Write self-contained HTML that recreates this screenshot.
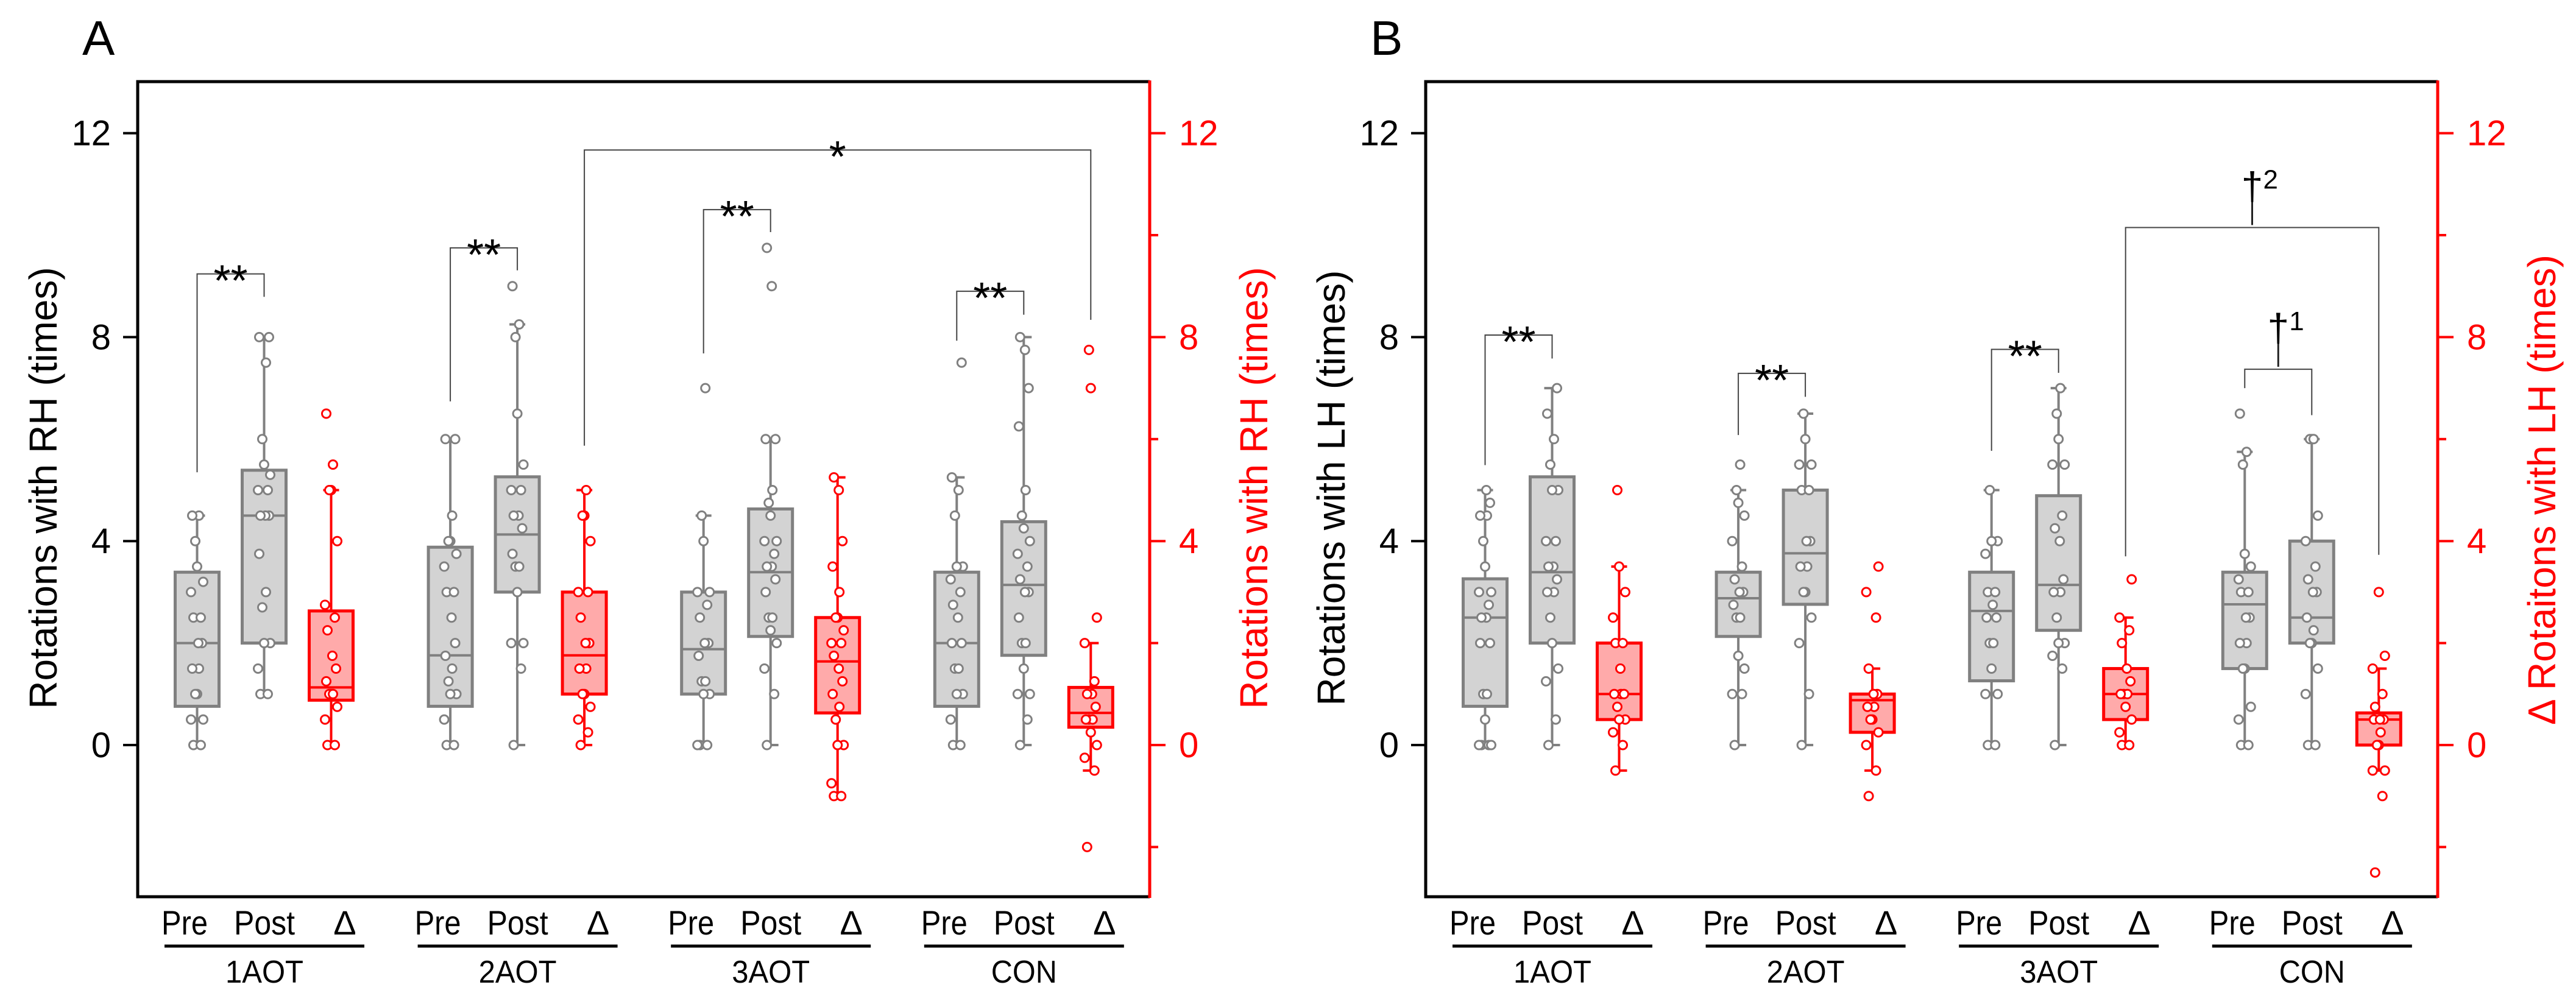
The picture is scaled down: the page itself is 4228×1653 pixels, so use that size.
<!DOCTYPE html>
<html><head><meta charset="utf-8"><style>
html,body{margin:0;padding:0;background:#fff;}
svg{display:block;}
text{font-family:"Liberation Sans",sans-serif;}
</style></head><body>
<svg id="chart" width="4228" height="1653" viewBox="0 0 4228 1653" xmlns="http://www.w3.org/2000/svg"></svg>
<script>
// ---- data ----
const groups = ["1AOT","2AOT","3AOT","CON"];
const conds = ["Pre","Post","Δ"];
const yTicks = [0,4,8,12];
const yTicksMinor = [-2,2,6,10];
// box stats per box: [whiskerLow, q1, median, q3, whiskerHigh]
const boxesA = [
 [0,0.76,2.0,3.39,4.5],[1,2.0,4.5,5.39,8],[0,0.88,1.13,2.63,5],
 [0,0.76,1.76,3.88,6],[0,3.0,4.13,5.26,8.25],[0,1.0,1.76,3.0,5],
 [0,1.0,1.88,3.0,4.5],[0,2.13,3.39,4.63,6],[-1,0.63,1.64,2.5,5.25],
 [0,0.76,2.0,3.39,5.25],[0,1.76,3.14,4.38,8],[-0.5,0.35,0.63,1.13,2]
];
const boxesB = [
 [0,0.76,2.5,3.26,5],[0,2.0,3.39,5.26,7],[-0.5,0.5,1.0,2.0,3.5],
 [0,2.13,2.88,3.39,5],[0,2.76,3.76,5.0,6.5],[-0.5,0.25,0.88,1.0,1.5],
 [0,1.26,2.63,3.39,5],[0,2.25,3.14,4.89,7],[0,0.5,1.0,1.5,2.5],
 [0,1.5,2.76,3.39,5.75],[0,2.0,2.5,4.0,6],[-0.5,0,0.5,0.63,1.5]
];
const pointsA = [
 [0,0,0.5,0.5,1,1,1.5,1.5,2,2,2.5,2.5,3,3.2,3.5,4,4.5,4.5],
 [1,1,1.5,2,2,2.7,3,3.75,4.5,4.5,4.5,5,5,5.3,5.5,6,7.5,8,8],
 [0,0,0.5,0.75,1,1,1,1.25,1.5,1.75,2.25,2.5,2.75,4,5,5,5.5,6.5],
 [0,0,0.5,1,1,1.25,1.5,1.75,2,2.5,3,3,3.5,3.75,4,4,4.5,6,6],
 [0,1.5,2,2,3,3.5,3.5,3.75,4.25,4.5,4.5,5,5,5.5,6.5,8,8.25,9],
 [0,0.25,0.5,0.75,1,1,1.5,1.5,2,2,2.5,3,3,4,4.5,4.5,5],
 [0,0,0,1,1,1.25,1.25,1.75,2,2,2.5,2.75,3,3,4,4.5,7],
 [0,1,1.5,2,2.25,2.5,2.5,3,3.25,3.5,3.5,3.75,4,4,4.5,4.75,5,6,6,9,9.75],
 [-1,-1,-0.75,0,0,0.5,0.75,1,1.25,1.5,1.75,2,2,2.25,2.5,2.5,3,3.5,4,5,5.25],
 [0,0,0.5,1,1,1.5,1.5,2,2,2.5,2.75,3,3.25,3.5,3.5,4.5,5,5.25,7.5],
 [0,0.5,1,1,1.5,2,2,2.5,3,3,3.25,3.5,3.75,4,4.25,4.5,5,6.25,7,7.75,8],
 [-2,-0.5,-0.25,0,0.25,0.5,0.5,0.5,0.75,1,1,1.25,2,2.5,7,7.75]
];
const pointsB = [
 [0,0,0,0,0.5,1,1,2,2,2.5,2.5,2.75,3,3,3.5,4,4.5,4.5,4.75,5],
 [0,0.5,1.25,1.5,2,2.5,3,3,3.25,3.5,3.5,4,4,5,5,5.5,6,6.5,7],
 [-0.5,0,0.25,0.5,0.5,0.75,1,1,1,1.5,2,2,2.5,3,3.5,5],
 [0,1,1,1.5,1.75,2.5,2.5,2.75,3,3,3.25,3.5,4,4.5,4.75,5,5.5],
 [0,1,2,2.5,3,3,3.5,3.5,4,4,5,5,5.5,5.5,6,6.5],
 [-1,-0.5,0,0.25,0.5,0.5,0.75,0.75,1,1,1.5,2.5,3,3.5],
 [0,0,1,1,1.5,2,2,2.5,2.5,2.75,3,3,3.75,4,4,5],
 [0,1.5,1.75,2,2,2.5,3,3,3.25,4,4.25,4.5,5.5,5.5,6,6.5,7],
 [0,0,0.25,0.5,0.75,1,1,1,1.25,1.5,2,2.25,2.5,3.25],
 [0,0,0.5,0.75,1.5,1.5,2,2,2.5,2.5,3,3,3.25,3.5,3.75,5.5,5.75,6.5],
 [0,0,1,1.5,2,2,2.25,2.5,3,3,3.25,3.5,4,4.5,6,6,6],
 [-2.5,-1,-0.5,-0.5,0,0,0.25,0.5,0.5,0.5,0.75,1,1.5,1.75,3]
];
// brackets: [fromIdx, toIdx, leftStartVal, topVal, rightEndVal, label, sup]
const bracketsA = [
 [0,1,5.35,9.24,8.79,"**",""],[3,4,6.74,9.75,9.31,"**",""],
 [5,11,5.87,11.67,8.34,"*",""],[6,7,7.68,10.5,10.06,"**",""],
 [9,10,7.93,8.9,8.44,"**",""]
];
const bracketsB = [
 [0,1,5.49,8.04,7.58,"**",""],[3,4,6.08,7.29,6.83,"**",""],
 [6,7,5.77,7.76,7.3,"**",""],[9,10,7.0,7.37,6.47,"†","1"],
 [8,11,3.70,10.15,3.73,"†","2"]
];
const panels = [
 {label:"A", off:0, boxes:boxesA, pts:pointsA, br:bracketsA, lt:"Rotations with RH (times)", rt:"Rotations with RH (times)"},
 {label:"B", off:2114, boxes:boxesB, pts:pointsB, br:bracketsB, lt:"Rotations with LH (times)", rt:"Δ Rotaitons with LH (times)"}
];
// ---- scales ----
const Y0=1223, YU=83.7;
function y(v){return Y0 - v*YU;}
function xi(i,off){const g=Math.floor(i/3),k=i%3;return off+323.5+g*415.6+k*110;}
const NS="http://www.w3.org/2000/svg";
const svg=document.getElementById('chart');
function el(tag,attrs,parent,txt){const e=document.createElementNS(NS,tag);for(const a in attrs)e.setAttribute(a,attrs[a]);if(txt!==undefined)e.textContent=txt;(parent||svg).appendChild(e);return e;}
const jit=[-6,6,-10,10,0,-3,3,-8,8,2];

panels.forEach((p,pi)=>{
 const g=el('g',{});  
 const L=226+p.off, R=1887+p.off, T=134, B=1472;
 const pl=el('text',{x:135+p.off,y:90,'font-size':80},g,p.label);
  
 const fr=el('path',{d:`M${R} ${T} L${L} ${T} L${L} ${B} L${R} ${B}`,fill:'none',stroke:'#000','stroke-width':5},g);
  
 const ra=el('line',{x1:R,y1:T-2,x2:R,y2:B+2,stroke:'#f00','stroke-width':5},g);
  
 yTicks.forEach(t=>{
  const tl=el('line',{x1:L-24,y1:y(t),x2:L,y2:y(t),stroke:'#000','stroke-width':4},g);
   
  const lb=el('text',{x:L-44,y:y(t)+20,'font-size':58,'text-anchor':'end'},g,String(t));
   
  const tr=el('line',{x1:R,y1:y(t),x2:R+26,y2:y(t),stroke:'#f00','stroke-width':4},g);
   
  const rl=el('text',{x:R+48,y:y(t)+20,'font-size':58,fill:'#f00'},g,String(t));
   
 });
 yTicksMinor.forEach(t=>{
  const tr=el('line',{x1:R,y1:y(t),x2:R+14,y2:y(t),stroke:'#f00','stroke-width':4},g);
   
 });
 const ltt=el('text',{transform:`translate(${93+p.off} 801) rotate(-90)`,'font-size':64,'text-anchor':'middle'},g,p.lt);
  
 const rc = pi==0?801:804;
 const rtt=el('text',{transform:`translate(${2080+p.off} ${rc}) rotate(-90)`,'font-size':64,'text-anchor':'middle',fill:'#f00'},g,p.rt);
  
 groups.forEach((gn,gi)=>{
  const lxs=[303,434,566];
  conds.forEach((c,ci)=>{
   const t=el('text',{x:lxs[ci]+gi*415.6+p.off,y:1534,'font-size':56,'text-anchor':'middle'},g,c);
   if(c!=='Δ'){t.setAttribute('textLength',c==='Pre'?76:100);t.setAttribute('lengthAdjust','spacingAndGlyphs');}
    
  });
  const ul=el('line',{x1:270+gi*415.6+p.off,y1:1553,x2:598+gi*415.6+p.off,y2:1553,stroke:'#000','stroke-width':5},g);
   
  const gl=el('text',{x:434+gi*415.6+p.off,y:1613,'font-size':52,'text-anchor':'middle',textLength:gn==='CON'?108:128,lengthAdjust:'spacingAndGlyphs'},g,gn);
   
 });
 p.boxes.forEach((b,i)=>{
  const red=(i%3===2), sc=red?'#f00':'#808080', fc=red?'#ffaaaa':'#d3d3d3';
  const cx=xi(i,p.off), hw=36;
  const bg=el('g',{},g);  
  el('line',{x1:cx,y1:y(b[0]),x2:cx,y2:y(b[4]),stroke:sc,'stroke-width':4},bg);
  el('line',{x1:cx-13,y1:y(b[0]),x2:cx+13,y2:y(b[0]),stroke:sc,'stroke-width':4},bg);
  el('line',{x1:cx-13,y1:y(b[4]),x2:cx+13,y2:y(b[4]),stroke:sc,'stroke-width':4},bg);
  el('rect',{x:cx-hw,y:y(b[3]),width:hw*2,height:y(b[1])-y(b[3]),fill:fc,stroke:sc,'stroke-width':5},bg);
  el('line',{x1:cx-hw,y1:y(b[2]),x2:cx+hw,y2:y(b[2]),stroke:sc,'stroke-width':4},bg);
  p.pts[i].forEach((v,j)=>{
   const c=el('circle',{cx:cx+jit[j%jit.length],cy:y(v),r:7,fill:'#fff',stroke:sc,'stroke-width':3},bg);
    
  });
 });
 p.br.forEach(b=>{
  const x1=xi(b[0],p.off), x2=xi(b[1],p.off);
  const bg=el('g',{},g);  
  el('path',{d:`M${x1} ${y(b[2])} L${x1} ${y(b[3])} L${x2} ${y(b[3])} L${x2} ${y(b[4])}`,fill:'none',stroke:'#444','stroke-width':2},bg);
  const mx=(x1+x2)/2;
  if(b[5]==='†'){
   el('line',{x1:mx,y1:y(b[3])-4,x2:mx,y2:y(b[3])-50,stroke:'#222','stroke-width':3},bg);
   el('text',{x:mx,y:y(b[3])-46,'font-size':64,'text-anchor':'middle','font-family':'Liberation Serif, serif'},bg,'†');
   el('text',{x:mx+18,y:y(b[3])-64,'font-size':44,'font-family':'Liberation Serif, serif'},bg,b[6]);
  } else {
   el('text',{x:mx,y:y(b[3])+36,'font-size':72,'text-anchor':'middle','font-family':'Liberation Serif, serif'},bg,b[5]);
  }
 });
});
</script>
</body></html>
